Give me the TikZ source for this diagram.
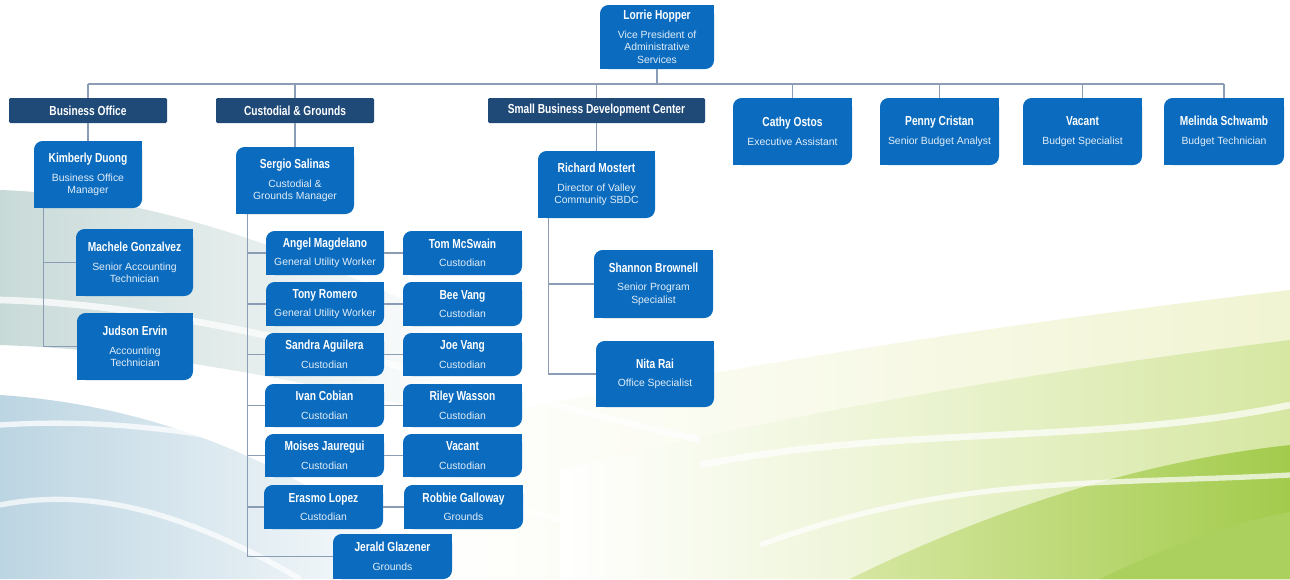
\documentclass[tikz,border=0pt]{standalone}
\usepackage{fontspec}
\setmainfont{Liberation Sans}
\newfontfamily\nmfont{Liberation Sans}[FakeStretch=0.78]
\definecolor{boxblue}{HTML}{0B6CBF}
\definecolor{navy}{HTML}{1F4A78}
\definecolor{linec}{HTML}{8A9DB5}
\definecolor{bgblue}{HTML}{BCD5E2}
\definecolor{bgteal}{HTML}{C8DAD8}
\definecolor{bggreen}{HTML}{D6E7A2}
\definecolor{bggreenD}{HTML}{A3CB4C}
\definecolor{bgyellow}{HTML}{F1F4D2}
\newcommand\nm[1]{{\color{white}\nmfont\bfseries\fontsize{9.8}{11}\selectfont #1}}
\newcommand\bx[6]{%
  \node[leaf, minimum width={(#4-#2)*0.75pt}, minimum height={(#5-#3)*0.75pt}] (#1) at ({(#2+#4)/2},{(#3+#5)/2}) {#6};
  \fill[boxblue] (#1.north east) rectangle ++(-7pt,-7pt);
  \fill[boxblue] (#1.south west) rectangle ++(7pt,7pt);}
\newcommand\hd[6]{%
  \node[hdr, minimum width={(#4-#2)*0.75pt}, minimum height={(#5-#3)*0.75pt}] (#1) at ({(#2+#4)/2},{(#3+#5)/2}) {\nm{#6}};}
\begin{document}
\begin{tikzpicture}[x=0.75pt,y=-0.75pt,
  leaf/.style={fill=boxblue, rounded corners=6.5pt, text=white!88!boxblue, align=center, inner sep=0pt,
    font=\fontsize{7.8}{9.4}\selectfont},
  hdr/.style={fill=navy, rounded corners=1pt, text=white, inner sep=0pt},
  conn/.style={draw=linec, line width=0.8pt}]
\useasboundingbox (0,0) rectangle (1290,579);
% background
\fill[white] (0,0) rectangle (1290,579);
\shade[left color=bgteal, right color=white] (0,190) .. controls (150,195) and (300,250) .. (470,330) -- (470,420) .. controls (300,380) and (150,350) .. (0,345) -- cycle;
\shade[left color=bgblue, right color=white] (0,395) .. controls (150,405) and (300,460) .. (440,579) -- (0,579) -- cycle;
\shade[left color=white, right color=bgyellow] (420,430) .. controls (650,380) and (950,330) .. (1290,290) -- (1290,579) -- (420,579) -- cycle;
\shade[left color=white, right color=bggreen] (560,470) .. controls (800,410) and (1050,370) .. (1290,340) -- (1290,579) -- (560,579) -- cycle;
\shade[left color=bggreen, right color=bggreenD] (850,579) .. controls (1000,505) and (1150,460) .. (1290,445) -- (1290,579) -- cycle;
\fill[bggreenD!90!white] (1100,579) .. controls (1170,545) and (1235,522) .. (1290,512) -- (1290,579) -- cycle;
\draw[white, line width=5pt, opacity=.75] (0,300) .. controls (200,305) and (400,370) .. (700,440);
\draw[white, line width=4pt, opacity=.75] (0,425) .. controls (150,415) and (300,445) .. (560,520);
\draw[white, line width=4pt, opacity=.7] (0,505) .. controls (100,485) and (200,520) .. (300,579);
\draw[white, line width=5pt, opacity=.7] (700,465) .. controls (900,425) and (1100,445) .. (1290,405);
\draw[white, line width=4pt, opacity=.7] (760,545) .. controls (950,475) and (1100,485) .. (1290,475);

% top
\bx{lorrie}{600}{5}{714}{69}{\nm{Lorrie Hopper}\\[4.5pt]Vice President of\\Administrative\\Services}
\coordinate (busL) at (88,84);
\coordinate (busR) at (1224,84);

% headers
\hd{bo}{9}{98}{167}{123}{Business Office}
\hd{cg}{216}{98}{374}{123}{Custodial \& Grounds}
\hd{sb}{488}{98}{705}{123}{Small Business Development Center}

% right column staff
\bx{cathy}{733}{98}{852}{165}{\nm{Cathy Ostos}\\[4.5pt]Executive Assistant}
\bx{penny}{880}{98}{999}{165}{\nm{Penny Cristan}\\[4.5pt]Senior Budget Analyst}
\bx{vac1}{1023}{98}{1142}{165}{\nm{Vacant}\\[4.5pt]Budget Specialist}
\bx{melinda}{1164}{98}{1284}{165}{\nm{Melinda Schwamb}\\[4.5pt]Budget Technician}

% business office
\bx{kim}{34}{141}{142}{208}{\nm{Kimberly Duong}\\[4.5pt]Business Office\\Manager}
\bx{mach}{76}{229}{193}{296}{\nm{Machele Gonzalvez}\\[4.5pt]Senior Accounting\\Technician}
\bx{jud}{77}{313}{193}{380}{\nm{Judson Ervin}\\[4.5pt]Accounting\\Technician}

% custodial
\bx{sergio}{236}{147}{354}{214}{\nm{Sergio Salinas}\\[4.5pt]Custodial \&\\Grounds Manager}
\bx{angel}{266}{231}{384}{275}{\nm{Angel Magdelano}\\[4.5pt]General Utility Worker}
\bx{tom}{403}{231}{522}{275}{\nm{Tom McSwain}\\[4.5pt]Custodian}
\bx{tony}{266}{282}{384}{326}{\nm{Tony Romero}\\[4.5pt]General Utility Worker}
\bx{bee}{403}{282}{522}{326}{\nm{Bee Vang}\\[4.5pt]Custodian}
\bx{sandra}{265}{333}{384}{376}{\nm{Sandra Aguilera}\\[4.5pt]Custodian}
\bx{joe}{403}{333}{522}{376}{\nm{Joe Vang}\\[4.5pt]Custodian}
\bx{ivan}{265}{384}{384}{427}{\nm{Ivan Cobian}\\[4.5pt]Custodian}
\bx{riley}{403}{384}{522}{427}{\nm{Riley Wasson}\\[4.5pt]Custodian}
\bx{moises}{265}{434}{384}{477}{\nm{Moises Jauregui}\\[4.5pt]Custodian}
\bx{vac2}{403}{434}{522}{477}{\nm{Vacant}\\[4.5pt]Custodian}
\bx{erasmo}{264}{485}{383}{529}{\nm{Erasmo Lopez}\\[4.5pt]Custodian}
\bx{robbie}{404}{485}{523}{529}{\nm{Robbie Galloway}\\[4.5pt]Grounds}
\bx{jerald}{333}{534}{452}{579}{\nm{Jerald Glazener}\\[4.5pt]Grounds}

% SBDC
\bx{richard}{538}{151}{655}{218}{\nm{Richard Mostert}\\[4.5pt]Director of Valley\\Community SBDC}
\bx{shannon}{594}{250}{713}{318}{\nm{Shannon Brownell}\\[4.5pt]Senior Program\\Specialist}
\bx{nita}{596}{341}{714}{407}{\nm{Nita Rai}\\[4.5pt]Office Specialist}

% connectors
\begin{scope}[conn]
\draw (lorrie.south) -- (lorrie.south |- busL);
\draw (busL) -- (busR);
\foreach \n in {bo,cg,sb,cathy,penny,vac1,melinda} \draw (\n.north) -- (\n.north |- busL);
\draw (bo.south) -- (kim.north);
\draw (cg.south) -- (sergio.north);
\draw (sb.south) -- (richard.north);
\draw (kim.south west) ++(10,0) |- (mach.west);
\draw (kim.south west) ++(10,0) |- (jud.west);
\foreach \n in {angel,tony,sandra,ivan,moises,erasmo,jerald} \draw (sergio.south west) ++(12,0) |- (\n.west);
\draw (angel.east) -- (angel.east -| tom.west);
\draw (tony.east) -- (tony.east -| bee.west);
\draw (sandra.east) -- (sandra.east -| joe.west);
\draw (ivan.east) -- (ivan.east -| riley.west);
\draw (moises.east) -- (moises.east -| vac2.west);
\draw (erasmo.east) -- (erasmo.east -| robbie.west);
\draw (richard.south west) ++(11,0) |- (shannon.west);
\draw (richard.south west) ++(11,0) |- (nita.west);
\end{scope}
\end{tikzpicture}
\end{document}
